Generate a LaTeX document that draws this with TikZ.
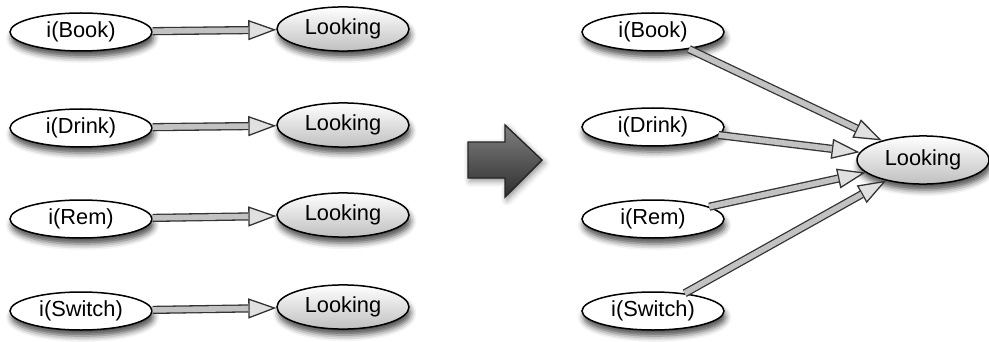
\documentclass[tikz,border=0pt]{standalone}
\usepackage{fontspec}
\setmainfont{Liberation Sans}
\usepackage{tikz}
\usetikzlibrary{arrows.meta,shapes.geometric,shadows.blur}

\begin{document}
\begin{tikzpicture}[x=0.5pt, y=-0.5pt, font=\fontsize{10.9}{12}\selectfont]
  \tikzset{state/.style = {shape = ellipse, draw = black, line width = 0.75pt,
                           inner xsep = 0pt, text height = 8pt, text depth = 2.6pt,
                           blur shadow = {shadow xshift = 0.8pt, shadow yshift = -3pt,
                                          shadow blur radius = 3pt, shadow opacity = 70}}}
  \tikzset{input/.style = {state, fill = white, inner ysep = 1.4pt,
                           minimum width = 71pt, minimum height = 19pt}}
  \tikzset{look/.style = {state, top color = white, bottom color = black!25, inner ysep = 2.5pt,
                          minimum width = 66pt, minimum height = 22pt}}
  \tikzset{link/.style = {draw = black!80, line width = 0.65pt,
                          -{Triangle[length = 14pt, width = 10pt, fill = black!12]},
                          postaction = {draw = black!80, double = black!24, double distance = 2.8pt,
                                        shorten >= 14pt, -}}}
  \tikzset{bigarrow/.style = {draw = black!85, line width = 0.7pt,
                              top color = black!50, middle color = black!40, bottom color = black!82,
                              blur shadow = {shadow xshift = 1pt, shadow yshift = -1.5pt,
                                             shadow blur radius = 3pt, shadow opacity = 45}}}

  \useasboundingbox (0,0) rectangle (989,342);

  % one Looking per input
  \node[input] (Book) at (81,32) {i(Book)};
  \node[input] (Drink) at (81,128) {i(Drink)};
  \node[input] (Rem) at (81,219) {i(Rem)};
  \node[input] (Switch) at (81,311) {i(Switch)};
  \node[look] (LBook) at (343,29) {Looking};
  \node[look] (LDrink) at (343,125) {Looking};
  \node[look] (LRem) at (343,215) {Looking};
  \node[look] (LSwitch) at (343,307) {Looking};

  \draw[link] (Book) -- (LBook);
  \draw[link] (Drink) -- (LDrink);
  \draw[link] (Rem) -- (LRem);
  \draw[link] (Switch) -- (LSwitch);

  % merge step
  \draw[bigarrow] (468,142) -- (505,142) -- (505,125) -- (542,160)
                  -- (505,197) -- (505,178) -- (468,178) -- cycle;

  % one shared Looking
  \node[input] (RBook) at (653,32) {i(Book)};
  \node[input] (RDrink) at (653,127) {i(Drink)};
  \node[input] (RRem) at (653,219) {i(Rem)};
  \node[input] (RSwitch) at (653,311) {i(Switch)};
  \node[look, inner ysep = 3.2pt, minimum height = 24pt] (Look) at (923,160) {Looking};

  \draw[link] (RBook) -- (Look);
  \draw[link] (RDrink) -- (Look);
  \draw[link] (RRem) -- (Look);
  \draw[link] (RSwitch) -- (Look);
\end{tikzpicture}
\end{document}
